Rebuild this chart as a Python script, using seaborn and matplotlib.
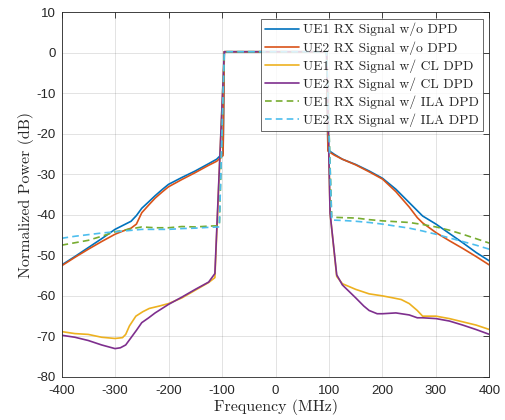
import numpy as np
import pandas as pd
import matplotlib
matplotlib.use("Agg")
import matplotlib.pyplot as plt
import seaborn as sns

# ---------------- data ----------------
labels = ["UE1 RX Signal w/o DPD", "UE2 RX Signal w/o DPD",
          "UE1 RX Signal w/ CL DPD", "UE2 RX Signal w/ CL DPD",
          "UE1 RX Signal w/ ILA DPD", "UE2 RX Signal w/ ILA DPD"]

ue1_nodpd_f = [-400, -375, -350, -325, -300, -285, -270, -260, -250, -237, -225, -212, -200, -175, -150,
               -125, -110, -100, -98, -95.7, 0, 95.5, 98, 110, 125, 150, 175, 200, 225, 250, 275, 300,
               325, 350, 375, 400]
ue1_nodpd_v = [-52.4, -50.3, -48.1, -45.9, -43.6, -42.6, -41.6, -40.2, -38.4, -36.8, -35.3, -33.8, -32.5, -30.8,
               -29.2, -27.4, -26.3, -25.0, -24.8, 0.2, 0.2, 0.2, -24.0, -25.1, -26.3, -27.6, -29.2, -31.0,
               -33.7, -37.0, -40.3, -42.3, -44.6, -46.9, -49.3, -51.4]

ue2_nodpd_f = [-400, -375, -350, -325, -300, -285, -270, -260, -250, -237, -225, -212, -200, -175, -150,
               -125, -110, -100, -98, -95.7, 0, 95.5, 98, 110, 125, 150, 175, 200, 225, 250, 265, 275, 300,
               325, 350, 375, 400]
ue2_nodpd_v = [-52.6, -50.5, -48.5, -46.6, -44.8, -44.0, -43.3, -42.3, -39.5, -37.6, -35.9, -34.4, -33.1, -31.3,
               -29.6, -27.8, -26.8, -25.6, -25.4, 0.2, 0.2, 0.2, -24.3, -25.3, -26.3, -27.7, -29.4, -31.2,
               -34.3, -38.1, -40.7, -42.0, -44.4, -46.4, -48.3, -50.3, -52.4]

ue1_cl_f = [-400, -375, -350, -325, -300, -286, -280, -273, -261, -248, -236, -217, -200, -175, -150, -125,
            -113.3, -95.7, 0, 95.7, 102, 114.4, 125, 150, 175, 200, 220, 235, 250, 265, 275, 290, 300, 325,
            350, 375, 400]
ue1_cl_v = [-68.8, -69.3, -69.5, -70.2, -70.5, -70.3, -69.5, -67.4, -65.0, -63.9, -63.1, -62.5, -61.9, -60.5,
            -58.6, -56.7, -55.5, 0.2, 0.2, 0.2, -39.6, -55.2, -57.0, -58.4, -59.5, -60.0, -60.5, -60.9, -61.9,
            -63.6, -65.0, -65.0, -65.0, -65.6, -66.4, -67.2, -68.3]

ue2_cl_f = [-400, -375, -350, -325, -300, -290, -280, -270, -260, -250, -237, -225, -200, -175, -150, -125,
            -113.3, -95.7, 0, 95.7, 102, 114.4, 125, 150, 165, 175, 190, 200, 225, 250, 265, 275, 300, 325,
            350, 375, 400]
ue2_cl_v = [-69.7, -70.2, -71.0, -72.1, -73.0, -72.8, -72.1, -70.3, -68.5, -66.6, -65.4, -64.2, -62.1, -60.3,
            -58.4, -56.6, -54.5, 0.2, 0.2, 0.2, -39.6, -54.8, -57.3, -60.5, -62.5, -63.6, -64.4, -64.4, -64.2,
            -64.7, -65.4, -65.4, -65.6, -66.2, -67.2, -68.3, -69.5]

ue1_ila_f = [-400, -375, -350, -325, -300, -275, -250, -225, -200, -175, -150, -125, -105, -95.7, 0, 95.5,
             105, 125, 150, 175, 200, 225, 250, 275, 300, 325, 350, 375, 400]
ue1_ila_v = [-47.5, -46.9, -46.3, -45.3, -44.2, -43.6, -43.0, -43.2, -43.2, -42.9, -43.0, -42.8, -42.7, 0.2,
             0.2, 0.2, -40.6, -40.7, -40.8, -41.2, -41.5, -41.7, -41.9, -42.4, -43.0, -43.8, -44.8, -45.9,
             -47.0]

ue2_ila_f = [-400, -375, -350, -325, -300, -275, -250, -225, -200, -175, -150, -125, -105, -95.7, 0, 95.5,
             105, 125, 150, 175, 200, 225, 250, 275, 300, 325, 350, 375, 400]
ue2_ila_v = [-45.8, -45.3, -44.9, -44.5, -44.2, -43.9, -43.6, -43.6, -43.6, -43.4, -43.3, -43.1, -43.0, 0.2,
             0.2, 0.2, -41.3, -41.4, -41.6, -41.9, -42.3, -42.8, -43.3, -44.0, -44.8, -45.7, -46.6, -47.5,
             -48.5]

x_ticks = [-400, -300, -200, -100, 0, 100, 200, 300, 400]
y_ticks = [10, 0, -10, -20, -30, -40, -50, -60, -70, -80]

series_f = [ue1_nodpd_f, ue2_nodpd_f, ue1_cl_f, ue2_cl_f, ue1_ila_f, ue2_ila_f]
series_v = [ue1_nodpd_v, ue2_nodpd_v, ue1_cl_v, ue2_cl_v, ue1_ila_v, ue2_ila_v]

colors = ["#0072BD", "#D95319", "#EDB120", "#7E2F8E", "#77AC30", "#4DBEEE"]
styles = ["-", "-", "-", "-", "--", "--"]

# ---------------- plotting ----------------
sns.set_theme(style="white")
plt.rcParams["font.family"] = ["Liberation Sans", "DejaVu Sans"]
plt.rcParams["axes.unicode_minus"] = False

fig = plt.figure(figsize=(5.05, 4.2), dpi=100)
ax = fig.add_axes([0.1218, 0.1024, 0.8475, 0.869])

for f, v, lab, c, ls in zip(series_f, series_v, labels, colors, styles):
    df = pd.DataFrame({"f": f, "v": v})
    sns.lineplot(data=df, x="f", y="v", ax=ax, sort=False, estimator=None,
                 linewidth=1.2, color=c, label=lab)
    if ls == "--":
        ax.lines[-1].set_dashes((4, 2.5))

ax.set_xlim(-400, 400)
ax.set_ylim(-80, 10)
ax.set_xticks(x_ticks)
ax.set_yticks(y_ticks)
ax.grid(True, color="#262626", alpha=0.15, linewidth=0.6)
ax.tick_params(direction="in", top=True, right=True, length=4, width=0.6,
               labelsize=9.5, colors="#262626")
ax.tick_params(axis="x", pad=6)
ax.tick_params(axis="y", pad=4)
for s in ax.spines.values():
    s.set_color("#262626")
    s.set_linewidth(0.6)

serif = ["cmr10", "DejaVu Serif"]
ax.set_xlabel("Frequency (MHz)", family=serif, fontsize=11.5, color="#262626", labelpad=1)
ax.set_ylabel("Normalized Power (dB)", family=serif, fontsize=11.5, color="#262626", labelpad=2)

leg = ax.legend(loc="upper right", prop={"family": serif, "size": 9.8},
                frameon=True, fancybox=False, edgecolor="#262626",
                handlelength=2.5, handletextpad=0.3, labelspacing=0.34,
                borderpad=0.3, borderaxespad=0.5)
leg.get_frame().set_linewidth(0.6)

fig.savefig("out.png", dpi=100)
